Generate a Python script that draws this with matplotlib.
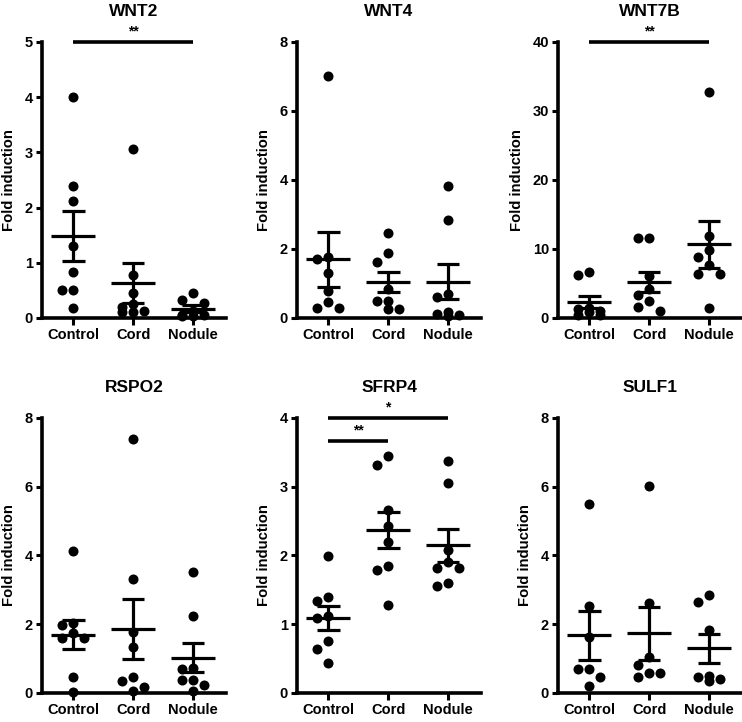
import matplotlib
matplotlib.use('Agg')
import matplotlib.pyplot as plt
import numpy as np

plt.rcParams['font.family'] = ['Liberation Sans', 'DejaVu Sans']
plt.rcParams['font.weight'] = 'bold'

groups = ['Control', 'Cord', 'Nodule']
genes = ['WNT2', 'WNT4', 'WNT7B', 'RSPO2', 'SFRP4', 'SULF1']
y_max = [5, 8, 40, 8, 4, 8]
y_step = [1, 2, 10, 2, 1, 2]

# fold induction per sample
wnt2_control = [4.0, 2.39, 2.11, 1.31, 0.84, 0.51, 0.51, 0.18]
wnt2_cord = [3.06, 0.78, 0.45, 0.25, 0.20, 0.12, 0.10, 0.10]
wnt2_nodule = [0.46, 0.32, 0.28, 0.12, 0.06, 0.05, 0.04, 0.03]

wnt4_control = [7.0, 1.78, 1.71, 1.29, 0.79, 0.45, 0.28, 0.28]
wnt4_cord = [2.46, 1.89, 1.61, 0.85, 0.50, 0.50, 0.27, 0.27]
wnt4_nodule = [3.83, 2.84, 0.69, 0.62, 0.16, 0.11, 0.10, 0.05]

wnt7b_control = [6.7, 6.2, 1.5, 1.3, 1.0, 0.8, 0.5, 0.4]
wnt7b_cord = [11.6, 11.6, 6.1, 4.2, 3.3, 2.5, 1.6, 1.0]
wnt7b_nodule = [32.8, 11.9, 9.85, 8.8, 7.7, 6.4, 6.4, 1.4]

rspo2_control = [4.13, 2.05, 1.98, 1.74, 1.59, 1.59, 0.47, 0.04]
rspo2_cord = [7.4, 3.32, 1.78, 1.35, 0.46, 0.36, 0.17, 0.05]
rspo2_nodule = [3.52, 2.23, 0.72, 0.69, 0.38, 0.38, 0.23, 0.07]

sfrp4_control = [1.99, 1.40, 1.34, 1.12, 1.09, 0.75, 0.64, 0.44]
sfrp4_cord = [3.44, 3.32, 2.66, 2.43, 2.19, 1.84, 1.79, 1.28]
sfrp4_nodule = [3.37, 3.06, 2.08, 1.90, 1.82, 1.82, 1.60, 1.56]

sulf1_control = [5.5, 2.54, 1.64, 0.69, 0.69, 0.46, 0.2]
sulf1_cord = [6.02, 2.61, 1.06, 0.81, 0.59, 0.59, 0.47]
sulf1_nodule = [2.85, 2.66, 1.83, 0.50, 0.46, 0.42, 0.36]

data = [
    [wnt2_control, wnt2_cord, wnt2_nodule],
    [wnt4_control, wnt4_cord, wnt4_nodule],
    [wnt7b_control, wnt7b_cord, wnt7b_nodule],
    [rspo2_control, rspo2_cord, rspo2_nodule],
    [sfrp4_control, sfrp4_cord, sfrp4_nodule],
    [sulf1_control, sulf1_cord, sulf1_nodule],
]

# (panel, group a, group b, bar height, label)
sig = [
    (0, 0, 2, 5.0, '**'),
    (2, 0, 2, 40.0, '**'),
    (4, 0, 1, 3.67, '**'),
    (4, 0, 2, 4.0, '*'),
]


def swarm(vals, px_y, px_x=60.0, step=11.0, thr=10.5):
    # spread overlapping dots sideways, like a scatter dot plot
    placed = []
    xs = []
    for v in vals:
        best = None
        best_d = -1
        for k in [0, -1, 1]:
            dx = k * step
            d = min([np.hypot(dx - p[0], (v - p[1]) * px_y) for p in placed] or [99])
            if d >= thr:
                best = dx
                break
            if d > best_d:
                best_d = d
                best = dx
        placed.append((best, v))
        xs.append(best / px_x)
    return xs


fig = plt.figure(figsize=(7.42, 7.22), dpi=100)
lefts = [0.0566, 0.4003, 0.7520]
bottoms = [0.5596, 0.0402]
w = 0.248
h = [0.3823, 0.3809]

for i, gene in enumerate(genes):
    r, c = divmod(i, 3)
    ax = fig.add_axes([lefts[c], bottoms[r], w, h[r]])
    px_y = h[r] * 722 / y_max[i]
    for g, vals in enumerate(data[i]):
        vals = np.array(vals)
        offs = swarm(vals, px_y)
        ax.scatter(g + np.array(offs), vals, s=52, color='black', zorder=3,
                   clip_on=False, linewidths=0)
        m = vals.mean()
        se = vals.std(ddof=1) / np.sqrt(len(vals))
        ax.hlines(m, g - 0.37, g + 0.37, color='black', lw=2.3, zorder=4)
        ax.hlines([m - se, m + se], g - 0.19, g + 0.19, color='black', lw=2.3, zorder=4)
        ax.vlines(g, m - se, m + se, color='black', lw=2.3, zorder=4)

    ax.set_xlim(-0.52, 2.55)
    ax.set_ylim(0, y_max[i])
    ax.set_yticks(np.arange(0, y_max[i] + 0.01, y_step[i]))
    ax.set_xticks(range(3))
    ax.set_xticklabels(groups)
    ax.spines['top'].set_visible(False)
    ax.spines['right'].set_visible(False)
    for s in ['left', 'bottom']:
        ax.spines[s].set_linewidth(2.6)
    ax.tick_params(axis='y', length=4.5, width=2.2, labelsize=10.5, pad=2)
    ax.tick_params(axis='x', length=5, width=2.2, labelsize=10.5, pad=2)
    ax.set_ylabel('Fold induction', fontsize=10.7, fontweight='bold', labelpad=6)
    ax.set_title(gene, fontsize=12.5, fontweight='bold', pad=19)

    for p, a, b, yb, lab in sig:
        if p != i:
            continue
        ax.plot([a, b], [yb, yb], color='black', lw=2.6, clip_on=False,
                solid_capstyle='butt')
        ax.annotate(lab, xy=((a + b) / 2, yb), xytext=(0, 2.5), textcoords='offset points',
                    ha='center', va='bottom', fontsize=10, fontweight='bold',
                    annotation_clip=False)

fig.savefig('out.png', dpi=100)
